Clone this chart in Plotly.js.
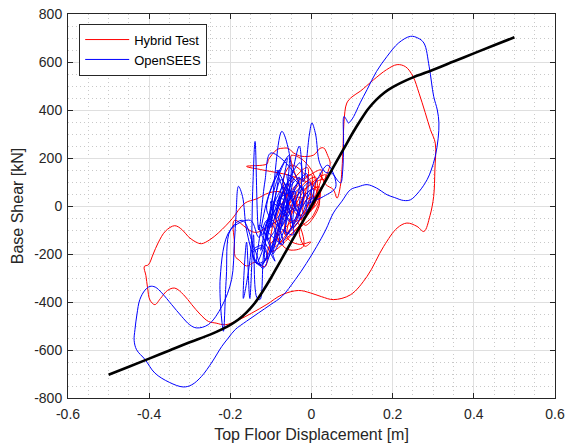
<!DOCTYPE html>
<html>
<head>
<meta charset="utf-8">
<script src="https://cdn.plot.ly/plotly-3.0.1.min.js"></script>
<style>html,body{margin:0;padding:0;background:#fff;}#chart{width:566px;height:445px;}</style>
</head>
<body>
<div id="chart"></div>
<script>
// ---- data ----
var hybridDisp = [
 0,0.012,-0.016,-0.02,0.012,0.02,-0.02,-0.035,0.005,0.01,-0.035,-0.05,0.0,0.025,-0.04,-0.065,-0.015,0.0,-0.06,-0.08,
 -0.01,0.03,-0.05,-0.09,-0.03,-0.01,-0.07,-0.1,-0.02,0.035,-0.02,-0.06,-0.03,-0.002,-0.016,-0.03,0.004,0.02,-0.04,-0.12,
 -0.16,-0.11,-0.106,-0.085,-0.069,-0.057,-0.045,-0.024,0.005,0.021,0.03,0.04,0.046,0.042,0.03,0.021,0.035,0.054,0.063,0.071,
 0.075,0.078,0.08,0.087,0.1,0.12,0.153,0.185,0.211,0.232,0.25,0.265,0.28,0.293,0.305,0.304,0.301,0.292,0.277,0.26,
 0.235,0.211,0.178,0.137,0.096,0.054,0.025,-0.003,-0.032,-0.073,-0.11,-0.147,-0.18,-0.213,-0.235,-0.254,-0.275,-0.295,-0.315,-0.337,
 -0.355,-0.372,-0.386,-0.398,-0.404,-0.408,-0.412,-0.402,-0.39,-0.378,-0.36,-0.337,-0.318,-0.304,-0.285,-0.271,-0.25,-0.23,-0.21,-0.195,
 -0.164,-0.135,-0.106,-0.08,-0.05,-0.02,-0.06,-0.1,-0.14,-0.19,-0.19,-0.188,-0.178,-0.16,-0.14,-0.114,-0.105,-0.08,-0.04,-0.02,
 -0.06,-0.09,-0.05,-0.016,0.001,0.02,-0.01,-0.05,-0.07,-0.03,0.01,-0.02,-0.05,-0.035,-0.01
];
var hybridShear = [
 0,40,20,-30,5,80,40,-60,-5,120,60,-90,10,150,70,-120,-20,130,40,-150,
 -40,110,20,-170,-30,160,50,-190,-60,130,60,-130,-160,-150,-168,-100,-40,60,120,150,
 165,175,193,235,241,240,222,207,212,240,242,210,180,150,110,138,90,68,33,82,
 151,260,350,429,455,478,526,568,589,580,540,470,390,318,262,150,40,-40,-106,-85,
 -71,-92,-168,-293,-370,-390,-378,-362,-352,-370,-410,-446,-475,-495,-488,-481,-450,-411,-370,-342,
 -352,-385,-411,-392,-340,-290,-252,-245,-200,-154,-105,-82,-100,-127,-150,-157,-140,-113,-80,-52,
 12,30,54,60,40,30,-30,-80,-110,-60,-150,-210,-226,-250,-235,-252,-170,-120,-60,-168,
 -180,-90,60,-80,-57,20,120,170,90,-40,100,190,210,110,30
];

var openseesDisp = [
 0,0.008,-0.01,-0.012,0.0,0.004,-0.02,-0.03,-0.005,-0.004,-0.035,-0.045,-0.015,-0.012,-0.05,-0.062,-0.025,-0.022,-0.06,-0.078,
 -0.035,-0.028,-0.07,-0.088,-0.05,-0.03,-0.06,-0.098,-0.07,-0.046,-0.08,-0.108,-0.075,-0.056,-0.09,-0.115,-0.08,-0.066,-0.1,-0.125,
 -0.1,-0.08,-0.11,-0.135,-0.11,-0.09,-0.12,-0.1,-0.07,-0.095,-0.06,-0.085,-0.04,-0.075,-0.03,
 -0.1,-0.115,-0.13,-0.139,-0.145,-0.15,-0.168,-0.16,-0.152,-0.143,-0.135,-0.127,-0.118,-0.1,-0.073,-0.05,-0.065,-0.03,-0.02,-0.005,0.001,0.01,0.02,0.035,0.05,0.065,0.072,0.077,
 0.079,0.08,0.086,0.091,0.097,0.104,0.12,0.137,0.16,0.186,0.215,0.244,0.262,0.277,0.29,0.301,0.31,0.314,0.312,0.305,
 0.295,0.285,0.265,0.244,0.227,0.205,0.186,0.16,0.137,0.115,0.096,0.075,0.054,0.035,0.013,-0.013,-0.04,-0.073,-0.1,-0.131,
 -0.16,-0.188,-0.205,-0.221,-0.245,-0.271,-0.295,-0.316,-0.35,-0.386,-0.41,-0.431,-0.437,-0.435,-0.43,-0.423,-0.41,-0.398,-0.385,-0.369,
 -0.345,-0.32,-0.3,-0.283,-0.254,-0.221,-0.197,-0.19,-0.186,-0.18,-0.17,-0.16,-0.14,-0.125,-0.11,-0.12,-0.145,-0.135,-0.11,-0.12,
 -0.145,-0.13,-0.105,-0.09,-0.11,-0.13,-0.15,-0.2,-0.225,-0.217,-0.21,-0.2,-0.17,-0.14,-0.12,-0.1,-0.115,-0.09,-0.13,-0.07,
 -0.1,-0.05,-0.085,-0.03,-0.07,-0.045,-0.11,-0.06,-0.09,-0.07,-0.1,-0.075,-0.04,-0.08,-0.05,-0.02,-0.06,-0.03,0.01,0.04,0.06,0.03,-0.01
];
var openseesShear = [
 0,35,15,-25,0,70,35,-55,0,100,40,-90,0,135,50,-120,-10,80,10,-160,
 -30,180,60,-55,40,120,60,-190,-60,120,30,-140,-50,210,80,-225,-80,90,-20,-185,
 -50,150,20,-240,-130,30,-120,-40,10,-200,-40,20,60,-90,90,
 221,100,-100,269,60,-200,-385,-150,-385,-120,-380,-390,-200,-20,311,160,-30,250,100,300,346,300,180,140,137,105,96,150,
 260,373,360,346,355,373,430,485,560,623,680,707,700,679,580,457,400,346,280,207,
 150,110,60,26,23,35,47,75,89,80,68,20,-29,-100,-168,-240,-307,-377,-410,-446,
 -480,-515,-550,-585,-650,-710,-745,-754,-735,-696,-640,-599,-560,-515,-450,-390,-350,-335,-338,-362,
 -410,-460,-495,-508,-494,-418,-307,-150,-40,82,40,-100,-220,-250,-200,-165,-185,-240,-215,-175,
 -195,-245,-210,-100,-60,-130,-60,-100,-300,-522,-300,-100,-60,-180,-260,-170,-110,-230,-80,-160,
 20,-60,150,-40,80,-120,-20,200,-50,60,-90,110,-20,40,-70,60,130,-10,100,170,80,40,10
];

var backboneDisp = [-0.5,-0.45,-0.4,-0.35,-0.3,-0.25,-0.22,-0.2,-0.18,-0.16,-0.14,-0.12,-0.1,-0.08,-0.04,0,0.04,0.08,0.1,0.12,0.14,0.16,0.18,0.2,0.22,0.25,0.3,0.35,0.4,0.45,0.5];
var backboneShear = [-703,-670,-636,-602,-568,-536,-513,-495,-473,-443,-405,-355,-300,-240,-120,0,120,240,300,355,405,443,473,495,513,536,568,602,636,670,703];

var xTickVals = [-0.6,-0.4,-0.2,0,0.2,0.4,0.6];
var xTickLabels = ['-0.6','-0.4','-0.2','0','0.2','0.4','0.6'];
var yTickVals = [-800,-600,-400,-200,0,200,400,600,800];
var yTickLabels = ['-800','-600','-400','-200','0','200','400','600','800'];

// ---- chart ----
var fontFam = 'Liberation Sans, Arial, Helvetica, sans-serif';
var ink = '#262626';

var traces = [
 {x: hybridDisp, y: hybridShear, type: 'scatter', mode: 'lines', name: 'Hybrid Test',
  line: {color: 'rgb(255,0,0)', width: 1, shape: 'spline', smoothing: 1}},
 {x: openseesDisp, y: openseesShear, type: 'scatter', mode: 'lines', name: 'OpenSEES',
  line: {color: 'rgb(0,0,255)', width: 1, shape: 'spline', smoothing: 1}},
 {x: backboneDisp, y: backboneShear, type: 'scatter', mode: 'lines', name: 'Backbone', showlegend: false,
  line: {color: '#000000', width: 2.6, shape: 'spline', smoothing: 1}}
];

function axis(range, vals, labels, minorStep, title, standoffLabel) {
  return {
    range: range, autorange: false,
    tickmode: 'array', tickvals: vals, ticktext: labels,
    ticks: 'inside', ticklen: 5, tickwidth: 1, tickcolor: ink,
    ticklabelstandoff: standoffLabel,
    showline: true, linecolor: ink, linewidth: 1, mirror: 'ticks',
    showgrid: true, gridcolor: '#dfdfdf', gridwidth: 1,
    zeroline: false,
    minor: {dtick: minorStep, showgrid: true, gridcolor: '#c8c8c8', griddash: '1px,3px', gridwidth: 1, ticks: ''},
    tickfont: {family: fontFam, size: 14, color: ink},
    title: {text: title, font: {family: fontFam, size: 16, color: ink}}
  };
}

var layout = {
  width: 566, height: 445,
  margin: {l: 68, r: 11, t: 14, b: 47, pad: 0},
  paper_bgcolor: '#ffffff', plot_bgcolor: '#ffffff',
  font: {family: fontFam, color: ink},
  xaxis: axis([-0.6, 0.6], xTickVals, xTickLabels, 0.05, 'Top Floor Displacement [m]', 3),
  yaxis: axis([-800, 800], yTickVals, yTickLabels, 50, 'Base Shear [kN]', 2),
  showlegend: true,
  legend: {x: 0.023, y: 0.975, xanchor: 'left', yanchor: 'top', itemwidth: 44,
    bgcolor: '#ffffff', bordercolor: ink, borderwidth: 1,
    font: {family: fontFam, size: 13, color: '#000000'}}
};
layout.xaxis.title.standoff = 8;
layout.yaxis.title.standoff = 6;

Plotly.newPlot('chart', traces, layout, {displayModeBar: false, staticPlot: true});
</script>
</body>
</html>
